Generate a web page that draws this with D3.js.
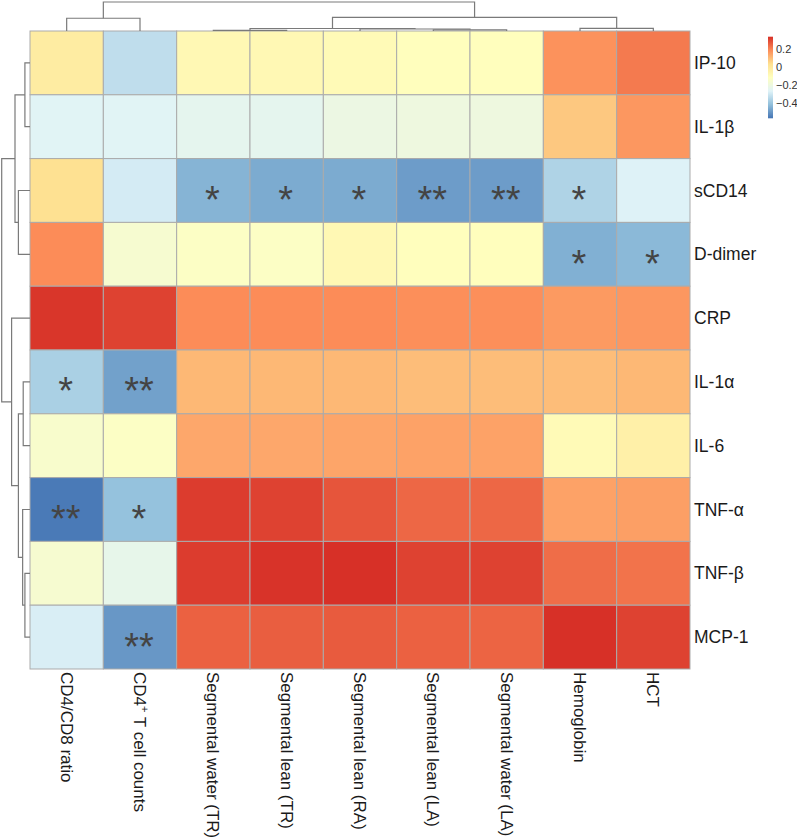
<!DOCTYPE html>
<html>
<head>
<meta charset="utf-8">
<script src="https://cdn.jsdelivr.net/npm/d3@7"></script>
<style>
  body { margin: 0; background: #fff; }
  svg { display: block; font-family: "Liberation Sans", Arial, sans-serif; }
</style>
</head>
<body>
<div id="chart"></div>
<script>
// columns (bottom labels) and rows (right labels), in the clustered order
var cols = ["CD4/CD8 ratio", "CD4+ T cell counts", "Segmental water (TR)", "Segmental lean (TR)",
            "Segmental lean (RA)", "Segmental lean (LA)", "Segmental water (LA)", "Hemoglobin", "HCT"];
var rows = ["IP-10", "IL-1β", "sCD14", "D-dimer", "CRP", "IL-1α", "IL-6", "TNF-α", "TNF-β", "MCP-1"];

// correlation values, one array per row
var vIP10   = [-0.02, -0.33, -0.08, -0.08, -0.09, -0.11, -0.11,  0.18,  0.22];
var vIL1b   = [-0.26, -0.26, -0.24, -0.24, -0.21, -0.20, -0.20,  0.08,  0.17];
var vsCD14  = [ 0.03, -0.29, -0.44, -0.46, -0.46, -0.49, -0.49, -0.36, -0.27];
var vDdimer = [ 0.19, -0.16, -0.13, -0.13, -0.08, -0.11, -0.11, -0.45, -0.43];
var vCRP    = [ 0.33,  0.31,  0.19,  0.19,  0.19, 0.185, 0.185, 0.165,  0.17];
var vIL1a   = [-0.37, -0.48,  0.11,  0.11,  0.11,  0.10,  0.10,  0.10,  0.11];
var vIL6    = [-0.15, -0.13,  0.14,  0.14, 0.145,  0.15,  0.15, -0.09, -0.04];
var vTNFa   = [-0.56, -0.41,  0.32,  0.31,  0.28,  0.25,  0.25,  0.15, 0.155];
var vTNFb   = [-0.16, -0.23,  0.32, 0.335,  0.34,  0.31,  0.31,  0.24,  0.23];
var vMCP1   = [-0.28, -0.50,  0.26, 0.265,  0.27,  0.26, 0.255,  0.34,  0.31];
var values  = [vIP10, vIL1b, vsCD14, vDdimer, vCRP, vIL1a, vIL6, vTNFa, vTNFb, vMCP1];

// significance marks
var sIP10   = ["", "", "", "", "", "", "", "", ""];
var sIL1b   = ["", "", "", "", "", "", "", "", ""];
var ssCD14  = ["", "", "*", "*", "*", "**", "**", "*", ""];
var sDdimer = ["", "", "", "", "", "", "", "*", "*"];
var sCRP    = ["", "", "", "", "", "", "", "", ""];
var sIL1a   = ["*", "**", "", "", "", "", "", "", ""];
var sIL6    = ["", "", "", "", "", "", "", "", ""];
var sTNFa   = ["**", "*", "", "", "", "", "", "", ""];
var sTNFb   = ["", "", "", "", "", "", "", "", ""];
var sMCP1   = ["", "**", "", "", "", "", "", "", ""];
var stars   = [sIP10, sIL1b, ssCD14, sDdimer, sCRP, sIL1a, sIL6, sTNFa, sTNFb, sMCP1];

// dendrograms: leaves are indices, h is merge height (0..1 of the tallest)
var colTree = {h: 1, c: [
  {h: 0.44, c: [0, 1]},
  {h: 0.47, c: [
    {h: 0.086, c: [{h: 0.024, c: [2, 3]}, {h: 0.069, c: [4, {h: 0.04, c: [5, 6]}]}]},
    {h: 0.09, c: [7, 8]}
  ]}
]};
var rowTree = {h: 1, c: [
  {h: 0.53, c: [{h: 0.18, c: [0, 1]}, {h: 0.41, c: [2, 3]}]},
  {h: 0.65, c: [4, {h: 0.41, c: [{h: 0.24, c: [5, 6]}, {h: 0.26, c: [7, {h: 0.18, c: [8, 9]}]}]}]}
]};

var legendTicks = [0.2, 0, -0.2, -0.4];
var palette = ["#4575B4", "#91BFDB", "#E0F3F8", "#FFFFBF", "#FEE090", "#FC8D59", "#D73027"];
var vmin = -0.57, vmax = 0.34;

var width = 797, height = 838;
var mLeft = 30, mRight = 690, mTop = 31, mBottom = 669;

var svg = d3.select("#chart").append("svg")
    .attr("width", width)
    .attr("height", height);

var x = d3.scaleBand().domain(d3.range(cols.length)).range([mLeft, mRight]);
var y = d3.scaleBand().domain(d3.range(rows.length)).range([mTop, mBottom]);

var color = d3.scaleLinear()
    .domain(palette.map(function(d, i) { return vmin + i * (vmax - vmin) / (palette.length - 1); }))
    .range(palette)
    .clamp(true);

// cells
var cells = [];
values.forEach(function(r, i) {
  r.forEach(function(v, j) { cells.push({r: i, c: j, v: v, s: stars[i][j]}); });
});

svg.append("g").selectAll("rect")
  .data(cells)
  .enter().append("rect")
    .attr("x", function(d) { return x(d.c); })
    .attr("y", function(d) { return y(d.r); })
    .attr("width", x.bandwidth())
    .attr("height", y.bandwidth())
    .attr("fill", function(d) { return color(d.v); })
    .attr("stroke", "#ababab")
    .attr("stroke-width", 1);

svg.append("g").selectAll("text")
  .data(cells.filter(function(d) { return d.s; }))
  .enter().append("text")
    .attr("x", function(d) { return x(d.c) + x.bandwidth() / 2 - 1; })
    .attr("y", function(d) { return y(d.r) + y.bandwidth() / 2 + 22.5; })
    .attr("text-anchor", "middle")
    .attr("font-size", 38)
    .attr("fill", "#444")
    .text(function(d) { return d.s; });

// dendrograms
var topH  = d3.scaleLinear().domain([0, 1]).range([mTop, 2]);
var leftH = d3.scaleLinear().domain([0, 1]).range([mLeft, 1.7]);

function drawTree(g, node, pos, hs, vertical) {
  if (typeof node === "number") return {p: pos(node), h: 0};
  var a = drawTree(g, node.c[0], pos, hs, vertical);
  var b = drawTree(g, node.c[1], pos, hs, vertical);
  var hh = hs(node.h);
  var pts = [[a.p, hs(a.h)], [a.p, hh], [b.p, hh], [b.p, hs(b.h)]];
  if (vertical) pts = pts.map(function(q) { return [q[1], q[0]]; });
  g.append("path")
    .attr("d", d3.line()(pts))
    .attr("fill", "none")
    .attr("stroke", "#7a7a7a")
    .attr("stroke-width", 1.2);
  return {p: (a.p + b.p) / 2, h: node.h};
}

drawTree(svg.append("g"), colTree, function(i) { return x(i) + x.bandwidth() / 2; }, topH, false);
drawTree(svg.append("g"), rowTree, function(i) { return y(i) + y.bandwidth() / 2; }, leftH, true);

// row labels
svg.append("g").selectAll("text")
  .data(rows)
  .enter().append("text")
    .attr("x", mRight + 4)
    .attr("y", function(d, i) { return y(i) + y.bandwidth() / 2; })
    .attr("dy", "0.35em")
    .attr("font-size", 17.5)
    .attr("fill", "#1a1a1a")
    .text(function(d) { return d; });

// column labels, rotated
var colLab = svg.append("g").selectAll("text")
  .data(cols)
  .enter().append("text")
    .attr("transform", function(d, i) { return "translate(" + (x(i) + x.bandwidth() / 2) + "," + (mBottom + 3) + ") rotate(90)"; })
    .attr("dy", "0.35em")
    .attr("font-size", 17)
    .attr("fill", "#1a1a1a");

colLab.each(function(d) {
  var t = d3.select(this);
  if (d.indexOf("+") > -1) {
    var parts = d.split("+");
    t.append("tspan").text(parts[0]);
    t.append("tspan").attr("font-size", 11).attr("dy", "-0.6em").text("+");
    t.append("tspan").attr("dy", "0.4em").text(parts[1]);
  } else {
    t.text(d);
  }
});

// legend
var lx = 768, ly0 = 36.7, ly1 = 118.3, lw = 5;
var grad = svg.append("defs").append("linearGradient")
    .attr("id", "lg")
    .attr("x1", 0).attr("y1", 1).attr("x2", 0).attr("y2", 0);
grad.selectAll("stop")
  .data(palette)
  .enter().append("stop")
    .attr("offset", function(d, i) { return i / (palette.length - 1); })
    .attr("stop-color", function(d) { return d; });

svg.append("rect")
  .attr("x", lx).attr("y", ly0)
  .attr("width", lw).attr("height", ly1 - ly0)
  .attr("fill", "url(#lg)");

var ls = d3.scaleLinear().domain([vmin, vmax]).range([ly1, ly0]);
svg.append("g").selectAll("text")
  .data(legendTicks)
  .enter().append("text")
    .attr("x", lx + lw + 3)
    .attr("y", function(d) { return ls(d); })
    .attr("dy", "0.35em")
    .attr("font-size", 11)
    .attr("fill", "#333")
    .text(function(d) { return d3.format("")(d).replace("-", "\u2212"); });
</script>
</body>
</html>
